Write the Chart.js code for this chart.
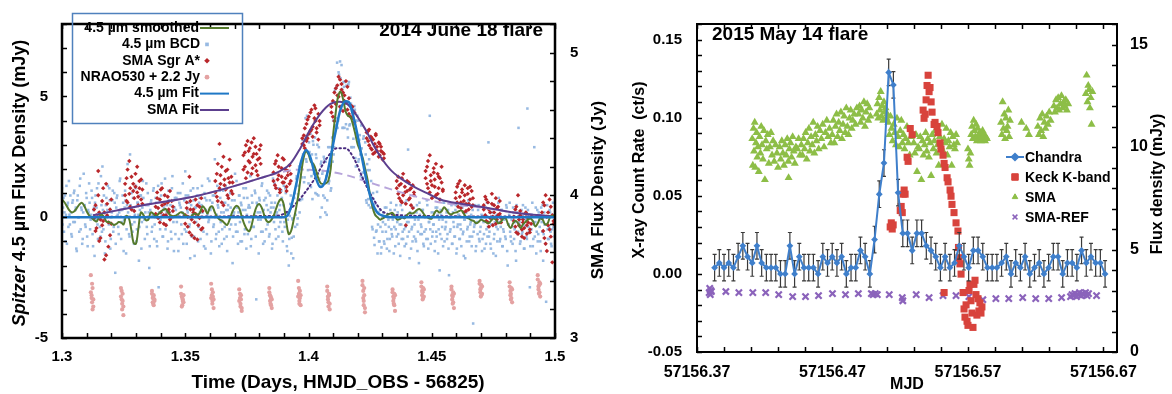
<!DOCTYPE html>
<html>
<head>
<meta charset="utf-8">
<script src="https://cdn.jsdelivr.net/npm/chart.js@4.4.1/dist/chart.umd.min.js"></script>
<style>
  html, body { margin: 0; padding: 0; background: #fff; }
  #wrap { position: relative; width: 1172px; height: 394px; overflow: hidden; }
  #flare2014 { position: absolute; left: 0; top: 0; }
  #flare2015 { position: absolute; left: 600px; top: 0; }
</style>
</head>
<body>
<div id="wrap">
  <canvas id="flare2014" width="620" height="394"></canvas>
  <canvas id="flare2015" width="572" height="394"></canvas>
</div>
<script>
// ---------------- 2014 June 18 flare ----------------
// Spitzer 4.5 um BCD photometry (mJy), two interleaved frame sets on a 0.0004 d cadence
const bcdStart = 1.3, bcdStep = 0.0004, bcdOffsetB = 0.0002;
const bcdFlux = [
  1.2,0.4,-0.6,0.9,0.1,-1.1,0.6,1.5,-0.3,0.2,
  -0.8,0.7,1.0,-0.2,0.4,-1.4,0.9,0.0,1.3,-0.5,
  0.3,-0.9,1.8,0.5,-0.4,0.8,-1.2,0.2,0.6,-0.1,
  1.1,-0.7,0.3,-1.6,0.9,0.4,-0.3,1.4,0.1,-0.8,
  0.5,2.1,-0.5,0.2,-1.0,0.8,0.3,-0.2,1.2,-1.3,
  0.0,0.7,-0.6,1.0,-2.3,0.4,0.9,-0.4,0.2,1.6,
  -0.9,0.3,0.6,-0.1,1.1,-1.5,0.5,0.2,-0.7,2.6,
  0.4,-0.3,0.8,-1.1,0.1,1.3,-0.5,0.6,-1.8,0.3,
  0.9,-0.2,1.5,0.0,-0.9,0.5,-0.4,1.0,0.2,-1.2,
  0.6,-0.6,0.1,1.2,-0.3,0.8,-1.0,0.4,-2.9,0.7,
  -0.1,1.4,-0.8,0.3,0.9,-0.5,0.2,-1.3,1.1,0.0,
  0.5,-0.9,1.7,-0.2,0.4,-0.7,0.8,0.1,-1.4,0.6,
  1.0,-0.3,0.2,-1.1,0.7,1.9,-0.6,0.3,0.9,-0.4,
  -1.7,0.5,0.1,1.2,-0.8,0.4,-0.2,0.9,-1.0,0.6,
  0.2,-0.5,1.3,0.0,-1.2,0.8,0.3,-0.7,1.6,-0.1,
  0.7,-1.5,0.4,0.9,-0.3,2.4,-0.9,0.1,0.5,-0.6,
  1.1,-0.2,-1.1,0.6,0.2,-0.4,1.3,-0.8,0.3,0.8,
  -0.5,0.4,1.0,-1.9,0.1,0.7,-0.3,1.5,-0.6,0.2,
  0.9,-1.0,0.5,0.0,1.2,-0.7,0.3,-1.3,0.8,0.4,
  -0.2,1.7,-0.9,0.6,-0.4,0.1,1.0,-3.4,0.5,-0.1,
  0.8,0.2,-0.6,1.4,-1.1,0.7,0.0,-0.5,1.1,0.3,
  -0.8,0.9,0.4,-1.3,1.6,-0.2,0.6,-0.9,0.2,1.2,
  -0.4,0.5,0.0,0.8,-1.0,
  1.3,-0.4,1.0,-1.2,-0.1,-2.0,0.05,0.9,-0.85,-0.1,
  -0.8,1.0,0.1,1.7,-0.05,1.3,0.2,2.2,1.65,3.2,
  2.95,1.65,4.1,2.3,3.35,1.4,2.7,3.45,1.7,0.75,
  3.0,1.8,1.0,2.45,3.0,0.9,1.6,0.0,2.3,1.8,
  0.9,2.4,0.2,1.7,0.7,2.9,1.5,2.6,1.2,3.3,
  4.0,2.9,5.3,4.1,6.4,4.0,5.9,6.45,4.5,5.3,
  3.7,5.4,5.6,3.85,4.45,3.3,5.6,3.85,4.7,2.9,
  4.25,2.9,4.45,2.1,3.4,4.0,2.4,3.4,1.7,2.85,
  1.85,3.35,1.9,2.6,0.6,1.95,0.5,1.95,0.4,0.8,
  -0.5,0.75,-1.15,0.3,-0.55,-1.5,0.2,-1.0,-0.4,-1.25,
  -0.6,0.2,-1.1,-0.3,0.4,-0.9,-0.1,-1.4,0.3,-0.5,
  -0.8,0.1,-0.4,-1.2,0.5,-0.2,-0.7,0.0,-1.6,-0.3,
  0.3,-0.9,-0.5,0.6,-1.1,-0.2,2.8,-0.6,0.2,-1.3,
  -0.4,0.4,-0.8,-0.1,-1.0,0.5,-0.6,-1.9,0.1,-0.3,
  -0.7,0.3,-1.2,0.0,-0.5,0.7,-0.9,-0.2,4.2,-1.1,
  0.2,-0.6,-0.3,-1.4,0.4,-0.8,0.1,-0.5,-2.2,0.3,
  -0.9,-0.1,0.6,-1.0,-0.4,0.2,-0.7,-1.3,0.0,-0.5,
  0.5,-1.1,-0.2,-0.8,0.3,-1.5,-0.4,0.1,-0.9,-0.3,
  -1.2,0.4,-0.6,-0.1,-1.7,0.2,-0.5,0.7,-1.0,-0.3,
  0.1,-0.8,-4.4,-0.4,0.5,-1.2,-0.2,0.3,-0.9,-0.6,
  -0.1,-1.4,0.4,-0.7,0.0,-1.1,0.6,-0.4,-0.8,0.2,
  -1.3,-0.3,0.5,-0.9,-0.2,-1.6,0.1,-0.5,0.8,-1.0,
  -0.4,0.3,-1.2,-0.6,0.0,-0.9,0.4,-2.0,-0.3,0.6,
  -0.8,-0.1,-1.1,0.2,-0.5,-1.4,0.5,-0.7,3.7,-0.2,
  -1.0,0.3,-0.6,-0.3,-1.3,0.4,-0.8,4.5,-0.4,0.1,
  -1.2,-0.5,0.6,-0.9,2.9,-0.2,-1.5,0.3,-0.7,-0.1,
  -1.0,0.4,-0.6,-1.8,0.2,-0.3,-3.5,0.5,-0.9,-0.4,
  0.2,-1.1,-0.5,0.6,-2.6,-0.3
];
const bcdFluxB = [
  -0.3,0.8,0.2,-1.0,1.3,0.5,-0.4,0.1,0.9,-0.7,
  0.6,-0.2,1.1,0.3,-1.3,0.7,0.0,-0.6,1.6,0.4,
  -1.1,0.2,0.5,-0.3,1.0,-0.8,0.3,1.4,-0.5,0.1,
  0.8,-1.2,0.4,0.6,-0.1,1.2,-0.9,0.2,-0.4,1.7,
  -0.6,0.3,0.9,-1.5,0.5,0.0,1.3,-0.3,0.7,-0.9,
  0.2,1.1,-0.4,0.6,-1.1,0.8,0.1,-0.7,1.5,0.3,
  -0.2,0.9,-1.4,0.4,0.7,-0.5,2.2,0.0,-0.8,0.5,
  1.0,-0.6,0.3,-0.2,1.2,-1.0,0.6,0.1,-0.4,0.9,
  -1.3,0.4,0.8,-0.1,0.2,1.4,-0.7,0.5,-2.1,0.3,
  0.7,-0.4,1.1,-0.9,0.0,0.6,-1.2,1.3,0.2,-0.5,
  0.9,0.1,-0.8,0.4,1.6,-0.3,0.5,-1.0,0.7,0.2,
  -0.6,1.2,0.0,-1.4,0.8,0.3,-0.2,1.0,-0.9,0.5,
  0.4,-0.7,1.4,0.1,-0.5,0.9,-1.1,0.2,0.6,-0.3,
  1.1,-0.8,0.3,0.7,-1.6,0.4,0.0,1.2,-0.4,0.8,
  -0.9,0.5,0.2,-0.6,1.0,-1.3,0.7,0.1,-0.2,1.5,
  0.3,-1.0,0.6,-0.4,0.9,0.0,-0.7,1.3,0.4,-1.2,
  0.8,0.2,-0.5,1.1,-0.9,0.6,0.3,-1.4,0.5,0.0,
  1.0,-0.3,0.7,-0.8,0.2,1.8,-0.6,0.4,-1.1,0.9,
  -0.2,0.6,-1.0,0.3,0.8,-0.5,1.2,0.1,-0.7,0.5,
  0.4,-1.2,0.9,0.0,-0.4,1.1,-0.8,0.6,0.2,-1.5,
  0.7,-0.1,1.3,-0.6,0.3,-1.0,0.8,0.5,-0.3,1.0,
  -0.7,0.2,0.6,-1.1,0.4,1.4,-0.5,0.1,0.9,-0.8,
  0.3,-0.2,1.1,-0.6,0.5,
  -0.2,1.2,0.2,-1.4,0.1,-0.9,0.55,-1.5,-0.05,-1.7,
  0.8,-0.4,1.6,-0.3,0.95,2.1,0.7,2.3,0.75,2.6,
  1.45,3.35,2.4,4.2,1.95,3.1,3.5,1.25,2.6,3.15,
  1.8,3.3,2.6,0.95,1.8,2.9,1.3,2.2,0.4,1.9,
  2.5,0.8,2.3,0.1,1.9,1.4,2.9,1.1,2.9,2.3,
  2.6,5.2,3.8,5.4,3.7,6.0,4.6,5.75,6.3,3.7,
  5.6,3.7,4.7,5.45,3.65,5.5,3.8,4.95,2.9,4.5,
  3.25,4.6,2.45,4.0,4.2,2.3,3.2,2.6,3.8,1.65,
  3.25,1.85,3.1,0.7,2.2,0.75,2.4,0.75,1.5,-0.4,
  1.0,-0.85,0.55,-0.6,1.05,-0.3,-1.0,0.3,-1.5,-0.05,
  -0.2,-1.0,0.4,-0.6,-1.3,0.1,-0.4,-0.9,0.6,-0.7,
  -0.1,-1.5,0.3,-0.5,-0.8,0.2,-1.1,-0.3,0.5,-0.9,
  -0.6,0.0,-1.2,-0.4,0.7,-0.8,-0.2,-1.7,0.1,-0.5,
  -1.0,0.4,-0.3,-0.9,0.2,-1.4,-0.1,0.6,-0.7,-0.4,
  0.3,-1.1,-0.6,0.0,-0.9,0.5,-1.3,-0.2,-0.5,0.8,
  -0.8,-0.3,0.2,-1.0,-0.6,0.4,-1.5,-0.1,-0.7,0.1,
  -0.4,-1.2,0.6,-0.5,-0.2,-0.9,0.3,-2.4,-0.6,0.0,
  -1.1,0.2,-0.4,-0.8,0.5,-1.3,-0.3,0.1,-0.9,-0.5,
  0.4,-0.7,-1.6,-0.1,0.2,-1.0,-0.4,0.6,-0.8,-0.2,
  -1.2,0.3,-0.6,-0.3,-1.4,0.0,-0.7,0.5,-1.0,-0.4,
  0.1,-0.9,-0.2,-1.3,0.4,-0.5,-0.8,3.1,-0.6,-1.1,
  -0.3,0.2,-1.5,-0.7,0.0,-0.4,-1.0,0.6,-0.2,-0.9,
  0.3,-1.2,-0.5,-0.1,-0.8,0.5,-1.4,-0.3,0.1,-0.6,
  -1.0,-0.4,0.4,-0.9,-0.2,-1.8,0.2,-0.6,-0.3,-1.1,
  0.0,-0.7,0.5,-1.3,-0.4,-0.1,-0.9,0.3,-0.6,-2.9,
  -0.5,0.1,-1.2,-0.3,-0.8,0.4,-0.6,-1.0,0.2,-0.4,
  -1.4,-0.2,0.5,-0.7,-0.3,-1.1,0.0,-0.5,-0.9,0.3,
  -0.6,-1.2,0.1,-0.4,-0.8
];
// 4.5 um smoothed light curve (mJy), one value per 0.001 d
const smoothStart = 1.3, smoothStep = 0.001;
const smoothFlux = [
  0.74,0.62,0.45,0.28,0.2,0.25,0.38,0.52,0.6,0.48,
  0.25,0.08,-0.02,-0.12,-0.18,0.0,0.1,0.02,-0.18,-0.2,
  -0.25,-0.32,-0.28,-0.2,-0.22,-0.3,0.05,0.0,-0.45,-1.05,
  -1.1,-0.45,0.2,0.1,-0.12,-0.1,0.2,0.15,0.05,0.12,
  0.22,0.3,0.34,0.2,0.08,0.04,0.06,0.12,0.2,0.18,
  0.08,0.02,0.0,0.1,0.15,0.1,0.2,0.45,0.35,0.15,
  0.4,0.45,0.2,0.0,-0.1,-0.15,-0.25,-0.32,-0.1,0.2,
  0.4,0.47,0.35,0.0,-0.3,-0.5,-0.58,-0.3,0.15,0.45,
  0.55,0.4,0.1,-0.15,-0.2,-0.1,0.1,0.4,0.65,0.75,
  0.5,-0.2,-0.7,-0.55,-0.1,0.4,1.0,1.8,2.45,2.73,
  2.6,2.3,2.2,1.95,1.6,1.4,1.38,1.4,1.5,2.0,
  3.4,4.3,5.0,5.2,4.9,4.4,4.2,4.15,3.85,3.45,
  3.0,2.75,2.45,2.0,1.53,0.9,0.4,0.1,0.0,-0.1,
  -0.05,0.0,0.1,0.15,0.18,0.05,-0.1,-0.08,0.0,-0.05,
  0.1,0.18,0.15,0.2,0.3,0.34,0.25,0.1,0.0,-0.05,
  -0.05,0.15,0.28,0.2,0.25,0.41,0.3,0.15,0.12,0.18,
  0.2,0.25,0.28,0.15,0.0,-0.05,-0.12,-0.15,-0.25,-0.2,
  -0.1,-0.15,-0.2,-0.25,-0.15,-0.05,-0.1,-0.25,-0.2,-0.05,
  -0.05,-0.3,-0.45,-0.25,-0.15,-0.25,-0.45,-0.3,-0.2,-0.1,
  -0.05,-0.15,-0.38,-0.25,-0.05,-0.1,-0.3,-0.25,0.0,0.05,0.08
];
// 4.5 um model fit (mJy)
const fitTime = [1.30,1.390,1.3913,1.393,1.395,1.397,1.399,1.4007,1.4028,1.4048,1.4068,1.4089,1.4109,
  1.4129,1.4150,1.4164,1.4177,1.4197,1.4217,1.4235,1.4254,1.4278,1.4305,1.433,1.50];
const fitFlux = [0,0,0.05,0.45,1.35,2.3,2.78,2.5,1.7,1.25,1.5,2.45,3.5,
  4.43,4.8,4.76,4.36,3.5,2.45,1.53,0.74,0.21,0.05,0,0];

// SMA Sgr A* (Jy): scan times, lower and upper sideband
const smaSgrTime = [
  1.3130,1.3136,1.3140,1.3147,1.3151,1.3156,1.3163,1.3167,1.3172,1.3179,1.3183,1.3188,1.3195,1.3200,
  1.3256,1.3262,1.3266,1.3273,1.3277,1.3282,1.3289,1.3293,1.3298,1.3305,1.3309,1.3314,1.3321,1.3326,
  1.3380,1.3386,1.3390,1.3397,1.3401,1.3406,1.3413,1.3417,1.3422,1.3429,1.3433,1.3438,1.3445,1.3450,
  1.3500,1.3506,1.3510,1.3517,1.3521,1.3526,1.3533,1.3537,1.3542,1.3549,1.3553,1.3558,1.3565,1.3570,
  1.3622,1.3628,1.3632,1.3639,1.3643,1.3648,1.3655,1.3659,1.3664,1.3671,1.3675,1.3680,1.3687,1.3692,
  1.3736,1.3742,1.3746,1.3753,1.3757,1.3762,1.3769,1.3773,1.3778,1.3785,1.3789,1.3794,1.3801,1.3806,
  1.3858,1.3864,1.3868,1.3875,1.3879,1.3884,1.3891,1.3895,1.3900,1.3907,1.3911,1.3916,1.3923,1.3928,
  1.3975,1.3981,1.3985,1.3992,1.3996,1.4001,1.4008,1.4012,1.4017,1.4024,1.4028,1.4033,1.4040,1.4045,
  1.4093,1.4099,1.4105,1.4111,1.4117,1.4122,1.4128,1.4134,1.4140,1.4146,1.4152,1.4158,1.4164,1.4171,1.4178,1.4186,
  1.4236,1.4242,1.4246,1.4253,1.4257,1.4262,1.4269,1.4273,1.4278,1.4285,1.4289,1.4294,1.4301,1.4306,
  1.4358,1.4364,1.4368,1.4375,1.4379,1.4384,1.4391,1.4395,1.4400,1.4407,1.4411,1.4416,1.4423,1.4428,
  1.4475,1.4481,1.4485,1.4492,1.4496,1.4501,1.4508,1.4512,1.4517,1.4524,1.4528,1.4533,1.4540,1.4545,
  1.4597,1.4603,1.4607,1.4614,1.4618,1.4623,1.4630,1.4634,1.4639,1.4646,1.4650,1.4655,1.4662,1.4667,
  1.4711,1.4717,1.4721,1.4728,1.4732,1.4737,1.4744,1.4748,1.4753,1.4760,1.4764,1.4769,1.4776,1.4781,
  1.4833,1.4839,1.4843,1.4850,1.4854,1.4859,1.4866,1.4870,1.4875,1.4882,1.4886,1.4891,1.4898,1.4903,
  1.4947,1.4952,1.4957,1.4962,1.4967,1.4972,1.4978,1.4983,1.4989,1.4994
];
const smaSgrLsb = [
  3.84,3.93,3.77,4.17,3.88,3.70,3.96,3.82,3.55,4.08,3.86,3.64,3.90,3.80,
  4.00,4.12,3.95,4.24,4.05,3.90,4.08,3.98,4.15,4.02,3.93,4.10,3.97,4.04,
  3.92,4.02,3.84,3.97,3.88,4.05,3.80,3.94,3.86,3.99,3.90,3.83,3.96,3.89,
  3.86,3.95,3.78,4.13,3.90,3.72,3.88,3.81,3.97,3.69,3.85,3.92,3.76,3.89,
  4.02,4.15,3.96,4.36,4.08,4.20,3.93,4.11,4.04,4.18,3.98,4.09,4.13,4.01,
  4.18,4.30,4.12,4.38,4.24,4.33,4.15,4.27,4.40,4.21,4.29,4.14,4.26,4.35,
  4.10,4.22,4.05,4.28,4.14,4.02,4.19,4.09,4.25,4.12,4.06,4.17,4.08,4.15,
  4.36,4.42,4.33,4.50,4.40,4.55,4.45,4.60,4.48,4.63,4.52,4.44,4.57,4.49,
  4.58,4.66,4.52,4.75,4.70,4.83,4.62,4.78,4.72,4.66,4.80,4.60,4.68,4.55,4.62,4.51,
  4.44,4.38,4.46,4.33,4.40,4.29,4.36,4.42,4.31,4.37,4.28,4.34,4.30,4.26,
  4.05,4.13,3.98,4.08,3.95,4.15,4.02,3.79,4.10,3.97,4.04,3.93,4.07,4.00,
  4.12,4.20,4.05,4.28,4.10,3.98,4.16,4.06,4.22,4.01,4.13,3.97,4.09,4.03,
  3.98,4.06,3.92,4.10,3.95,4.02,3.88,4.00,3.94,4.05,3.90,3.97,4.03,3.93,
  3.90,3.99,3.82,3.95,3.78,3.88,4.01,3.85,3.93,3.80,3.91,3.86,3.96,3.84,
  3.82,3.90,3.74,4.00,3.79,3.86,3.71,3.83,3.77,3.88,3.73,3.81,3.76,3.85,
  3.84,3.95,3.70,4.00,3.61,3.88,3.76,3.92,3.53,3.80
];
const smaSgrUsb = [
  3.90,3.75,3.86,4.00,3.68,3.83,3.79,4.05,3.88,3.58,3.94,3.81,3.72,3.97,
  4.08,3.96,4.18,4.01,3.92,4.13,4.03,3.89,4.06,4.20,3.99,4.05,4.11,3.94,
  3.87,3.98,3.91,3.81,4.04,3.93,3.86,4.00,3.79,3.95,3.88,4.03,3.85,3.92,
  3.80,3.91,3.85,3.74,3.96,3.83,3.90,3.70,3.87,3.93,3.79,3.84,3.98,3.77,
  4.10,3.99,4.22,4.05,4.14,3.95,4.27,4.07,4.17,4.00,4.12,4.25,4.03,4.09,
  4.28,4.20,4.35,4.16,4.31,4.23,4.37,4.19,4.29,4.34,4.17,4.25,4.32,4.22,
  4.16,4.07,4.24,4.11,4.20,4.04,4.13,4.26,4.09,4.18,4.03,4.14,4.21,4.10,
  4.40,4.35,4.47,4.38,4.53,4.43,4.58,4.46,4.41,4.54,4.61,4.47,4.39,4.52,
  4.62,4.55,4.72,4.64,4.77,4.69,4.81,4.74,4.59,4.70,4.65,4.76,4.57,4.63,4.54,4.58,
  4.40,4.45,4.35,4.41,4.32,4.39,4.30,4.43,4.34,4.27,4.36,4.31,4.25,4.29,
  4.10,4.01,4.07,3.96,4.12,4.00,4.06,3.94,4.03,4.09,3.98,4.05,3.91,4.02,
  4.17,4.08,4.24,4.02,4.14,4.07,4.19,4.11,4.00,4.15,4.05,4.12,4.20,4.04,
  4.02,3.95,4.08,3.99,3.91,4.04,3.96,4.07,3.89,4.01,3.94,4.06,3.92,3.98,
  3.93,3.86,3.97,3.81,3.90,3.84,3.94,3.79,3.88,3.98,3.83,3.92,3.87,3.81,
  3.85,3.78,3.92,3.73,3.83,3.89,3.76,3.81,3.70,3.87,3.79,3.84,3.74,3.80,
  3.88,3.75,3.93,3.66,3.85,3.79,3.97,3.71,3.86,3.82
];
// NRAO530 calibrator scans (+2.2 Jy)
const nraoTime = [
  1.3117,1.3120,1.3122,1.3124,1.3127, 1.3239,1.3242,1.3244,1.3246,1.3249,
  1.3365,1.3368,1.3370,1.3372,1.3375, 1.3483,1.3486,1.3488,1.3490,1.3493,
  1.3605,1.3608,1.3610,1.3612,1.3615, 1.3719,1.3722,1.3724,1.3726,1.3729,
  1.3841,1.3844,1.3846,1.3848,1.3851, 1.3958,1.3961,1.3963,1.3965,1.3968,
  1.4076,1.4079,1.4081,1.4083,1.4086, 1.4219,1.4222,1.4224,1.4226,1.4229,
  1.4341,1.4344,1.4346,1.4348,1.4351, 1.4458,1.4461,1.4463,1.4465,1.4468,
  1.4580,1.4583,1.4585,1.4587,1.4590, 1.4694,1.4697,1.4699,1.4701,1.4704,
  1.4816,1.4819,1.4821,1.4823,1.4826, 1.4930,1.4933,1.4935,1.4937,1.4940
];
const nraoLsb = [
  3.44,3.30,3.25,3.35,3.22, 3.35,3.27,3.20,3.31,3.16,
  3.33,3.28,3.24,3.30,3.26, 3.36,3.29,3.23,3.27,3.25,
  3.38,3.30,3.26,3.32,3.21, 3.34,3.28,3.22,3.30,3.19,
  3.35,3.30,3.24,3.28,3.21, 3.40,3.31,3.26,3.33,3.23,
  3.36,3.29,3.22,3.31,3.24, 3.40,3.33,3.26,3.30,3.18,
  3.34,3.29,3.24,3.31,3.19, 3.39,3.33,3.27,3.35,3.29,
  3.36,3.30,3.24,3.32,3.21, 3.40,3.34,3.29,3.37,3.31,
  3.39,3.33,3.27,3.35,3.25, 3.44,3.36,3.31,3.39,3.29
];
const nraoUsb = [
  3.32,3.28,3.38,3.20,3.27, 3.29,3.33,3.24,3.26,3.22,
  3.31,3.25,3.29,3.23,3.27, 3.31,3.22,3.28,3.26,3.30,
  3.28,3.34,3.24,3.29,3.27, 3.26,3.31,3.24,3.27,3.21,
  3.32,3.26,3.29,3.23,3.27, 3.29,3.35,3.24,3.28,3.30,
  3.33,3.27,3.25,3.30,3.20, 3.37,3.28,3.23,3.35,3.21,
  3.32,3.26,3.28,3.23,3.30, 3.36,3.30,3.32,3.28,3.34,
  3.34,3.27,3.29,3.25,3.31, 3.38,3.32,3.35,3.30,3.36,
  3.36,3.30,3.31,3.28,3.34, 3.41,3.34,3.37,3.32,3.38
];
// SMA fit (Jy): total, broad and narrow components
const smaFitTime = [1.3126,1.3329,1.3532,1.3670,1.3804,1.3885,1.3926,1.3967,1.4007,1.4048,1.4089,1.4126,1.4156,
  1.4183,1.4210,1.4238,1.4264,1.4292,1.4332,1.4373,1.4427,1.4481,1.4535,1.4617,1.4698,1.4832,1.5];
const smaFitFlux = [3.86,3.93,3.99,4.05,4.12,4.17,4.22,4.33,4.46,4.57,4.64,4.655,4.64,
  4.59,4.52,4.44,4.35,4.27,4.18,4.12,4.06,4.015,3.97,3.94,3.92,3.88,3.85];
const broadTime = [1.3126,1.3329,1.3532,1.3670,1.3804,1.3885,1.3967,1.4048,1.4089,1.4156,1.4238,1.4319,1.4427,1.4535,1.4617,1.4698,1.4832,1.5];
const broadFlux = [3.86,3.93,3.99,4.05,4.12,4.16,4.18,4.175,4.165,4.14,4.095,4.05,3.995,3.95,3.93,3.915,3.88,3.85];
const narrowTime = [1.3126,1.385,1.390,1.3953,1.4021,1.4075,1.4116,1.4149,1.4183,1.4224,1.4264,1.4305,1.438,1.445,1.5];
const narrowFlux = [3.85,3.855,3.87,3.95,4.105,4.262,4.33,4.33,4.262,4.105,3.971,3.881,3.86,3.855,3.85];

const leftXTicks = [1.3, 1.35, 1.4, 1.45, 1.5];
const spitzerTicks = [-5, 0, 5];
const smaJyTicks = [3, 4, 5];

// ---------------- 2015 May 14 flare (times are MJD - 57156) ----------------
const chandraStart = 0.383, chandraBin = 300 / 86400;
const chandraRate = [
  0.004,0.007,0.004,0.007,0.004,0.011,0.018,0.011,0.007,0.018,
  0.007,0.004,0.004,0.004,0.0,0.0,0.018,0.0,0.011,0.004,
  0.004,0.004,0.0,0.011,0.007,0.011,0.007,0.011,0.0,0.004,
  0.004,0.015,0.011,0.0,0.022,0.051,0.071,0.129,0.121,0.052,
  0.026,0.026,
  0.015,0.026,0.026,0.018,0.015,0.011,0.004,0.011,0.004,0.007,
  0.018,0.011,0.004,0.015,0.015,0.011,0.004,0.004,0.004,0.007,
  0.011,0.0,0.007,0.004,0.011,0.0,0.004,0.007,0.0,0.004,
  0.011,0.011,0.0,0.007,0.007,0.004,0.015,0.007,0.011,0.007,
  0.007,0.0
];
const chandraErr = 0.0085;
const keckTime = [0.5126,0.5134,0.5141,0.5148,0.5200,0.5207,0.5215,0.5222,0.5229,0.5236,0.5251,0.5258,0.5274,0.5288,
  0.5369,0.5376,0.5384,0.5391,0.5398,0.5406,0.5413,0.5420,0.5428,0.5435,0.5450,0.5457,0.5472,0.5479,0.5494,0.5501,
  0.5516,0.5524,0.5524,0.5531,0.5546,0.5553,0.5568,0.5575,0.5582,0.5597,0.5612,0.5626,0.5630,0.5634,0.5641,0.5649,
  0.5664,0.5671,0.5678,0.5686,0.5693,0.5700,0.5708,0.5715,0.5722,0.5730,0.5737,0.5744,0.5752,0.5759,0.5766,
  0.5774,0.5781,0.5788,0.5796,0.5803];
const keckFlux = [6.1,6.3,6.0,6.2,6.9,7.1,6.8,7.7,7.9,7.7,9.5,9.3,10.9,10.6,
  11.8,11.4,11.6,12.3,13.0,13.5,12.7,12.9,12.2,11.7,11.1,11.2,11.0,10.7,10.2,9.9,
  9.6,9.2,2.9,9.0,8.5,8.3,7.9,7.6,7.2,6.8,6.3,5.9,5.1,4.6,4.3,3.8,
  2.9,2.1,1.7,2.3,1.5,1.3,3.0,3.3,2.5,1.9,1.2,3.3,3.5,2.8,1.8,
  2.6,2.0,2.4,1.9,2.2];
const smaTime = [
  0.4108,0.4112,0.4117,0.4121,0.4126,0.4130,0.4135,0.4140,0.4145,0.4150,0.4156,0.4162,0.4168,0.4174,0.4180,
  0.4187,0.4194,0.4201,0.4208,0.4215,0.4222,0.4230,0.4238,0.4246,0.4254,0.4262,0.4270,0.4280,0.4290,0.4298,
  0.4310,0.4318,0.4326,0.4334,0.4342,0.4350,0.4358,0.4366,0.4374,0.4376,0.4382,0.4390,0.4398,0.4406,0.4414,
  0.4422,0.4430,0.4440,0.4450,0.4460,0.4470,
  0.4478,0.4486,0.4494,0.4502,0.4510,0.4518,0.4526,0.4534,0.4542,0.4550,0.4558,0.4566,0.4574,0.4582,0.4590,
  0.4598,0.4608,0.4618,0.4628,0.4638,0.4648,0.4658,0.4668,0.4678,0.4688,
  0.4698,0.4706,0.4714,0.4722,0.4730,0.4738,0.4746,0.4754,0.4762,0.4770,0.4778,0.4786,0.4794,0.4802,0.4810,
  0.4818,0.4826,0.4834,0.4842,0.4850,0.4860,0.4870,0.4880,
  0.4892,0.4900,0.4908,0.4916,0.4924,0.4932,0.4940,0.4948,0.4956,0.4964,0.4972,0.4980,
  0.5026,0.5032,0.5038,0.5044,0.5050,0.5056,0.5062,0.5068,0.5074,0.5080,0.5086,0.5092,0.5098,0.5104,
  0.5112,0.5120,0.5128,0.5136,0.5144,0.5152,0.5160,0.5168,0.5176,0.5184,0.5192,0.5200,0.5208,0.5216,0.5224,
  0.5232,0.5240,0.5250,0.5260,0.5270,0.5280,
  0.5300,0.5308,0.5316,0.5324,0.5332,0.5340,0.5348,0.5356,0.5364,0.5372,0.5380,0.5388,0.5396,0.5404,0.5412,
  0.5420,0.5428,0.5436,0.5444,0.5452,0.5460,0.5468,0.5476,0.5484,0.5492,0.5500,0.5508,0.5516,0.5524,0.5532,
  0.5540,0.5548,0.5556,0.5564,0.5572,0.5580,0.5588,0.5596,0.5604,0.5612,0.5620,
  0.5700,0.5706,0.5712,0.5718,
  0.5724,0.5730,0.5736,0.5742,0.5748,0.5754,0.5760,0.5766,0.5772,0.5778,0.5784,0.5790,0.5796,0.5802,0.5808,
  0.5814,0.5820,0.5826,0.5832,0.5840,
  0.5944,0.5950,0.5956,0.5962,0.5968,0.5974,0.5980,0.5986,0.5992,0.5998,0.6004,0.6010,
  0.6095,0.6130,0.6150,
  0.6216,0.6224,0.6232,0.6240,0.6248,0.6256,0.6264,0.6272,0.6280,0.6290,0.6300,0.6310,
  0.6334,0.6342,0.6350,0.6358,0.6366,0.6374,0.6382,0.6390,0.6398,0.6406,0.6414,0.6422,0.6430,0.6440,
  0.6570,0.6576,0.6582,0.6588,0.6594,0.6600,0.6606,0.6612,0.6618
];
const smaFlux = [
  10.4,9.1,10.9,9.8,11.2,9.0,10.2,10.7,9.5,10.0,8.8,10.5,9.7,11.0,10.1,
  9.4,10.8,8.4,10.3,9.9,10.6,9.2,10.0,10.7,9.6,10.3,9.3,10.1,9.7,9.0,
  10.0,9.4,10.3,9.7,9.1,10.1,9.6,10.4,9.3,8.5,9.9,10.2,9.5,10.5,9.8,
  9.2,10.0,9.9,10.4,9.6,10.1,
  9.6,10.4,9.9,10.7,9.4,10.2,10.9,9.8,10.5,10.1,11.2,9.7,10.6,10.3,11.0,
  9.9,10.8,10.4,11.1,10.0,10.7,11.3,10.5,10.9,10.2,
  10.6,11.3,10.2,11.0,11.6,10.5,11.2,10.8,11.7,10.4,11.1,11.5,10.7,11.9,11.0,
  10.6,11.4,11.8,10.9,11.3,11.6,11.1,11.9,
  11.6,12.0,11.2,11.8,11.4,12.2,11.0,11.7,12.1,11.3,11.9,11.5,
  11.6,12.1,11.4,12.4,11.8,12.7,11.5,12.0,11.3,12.2,11.7,11.9,11.4,11.6,
  11.2,10.6,11.5,10.9,10.3,11.1,10.7,10.1,11.4,10.5,10.0,10.8,11.3,10.2,10.6,
  9.9,10.4,11.0,10.2,9.6,10.5,
  10.2,9.7,10.6,8.8,10.0,9.9,10.5,8.4,10.3,9.6,10.1,10.7,9.8,10.4,9.5,
  10.2,8.6,10.6,9.9,10.3,10.8,9.7,10.1,9.1,10.5,10.0,11.1,9.8,10.4,10.2,
  10.9,9.6,10.3,10.0,10.7,9.1,10.5,10.1,9.9,10.6,10.2,
  9.9,9.4,9.1,9.7,
  10.6,11.0,10.4,11.3,10.8,10.5,11.1,10.3,10.9,10.6,10.4,10.7,10.3,10.5,10.8,
  10.4,10.6,10.3,10.5,10.4,
  11.2,10.6,12.2,10.9,11.6,10.4,11.4,10.8,11.0,11.8,10.5,11.3,
  11.2,10.9,10.6,
  11.0,10.6,11.4,10.8,11.6,10.5,11.2,10.9,11.5,11.1,11.7,11.3,
  12.0,11.7,12.3,11.9,12.4,11.8,12.1,12.5,11.9,12.2,12.0,12.3,11.8,12.1,
  12.6,13.5,12.2,13.0,12.8,11.9,12.4,11.1,12.7
];
const smaRefTime = [0.3790,0.3794,0.3798,0.3802,0.3806,0.3913,0.4009,0.4112,0.4207,0.4303,0.4406,0.4501,
  0.4597,0.4700,0.4796,0.4891,0.4987,0.5001,0.5016,0.5031,0.5119,0.5215,0.5219,0.5318,0.5413,0.5516,0.5612,
  0.5707,0.5810,0.5906,0.6001,0.6104,0.6200,0.6296,0.6391,0.6457,0.6468,0.6479,0.6490,0.6501,0.6512,0.6523,
  0.6534,0.6545,0.6556,0.6568,0.6579,0.6590,0.6649];
const smaRefFlux = [2.9,3.1,2.8,3.0,2.95,2.95,2.9,2.9,2.9,2.8,2.7,2.7,
  2.75,2.85,2.8,2.85,2.85,2.8,2.85,2.8,2.8,2.65,2.5,2.8,2.65,2.75,2.75,
  2.7,2.55,2.6,2.6,2.65,2.6,2.6,2.65,2.7,2.8,2.75,2.85,2.7,2.8,2.9,
  2.75,2.85,2.8,2.9,2.75,2.85,2.75];

const mjdTicks = [0.37, 0.47, 0.57, 0.67];
const rateTicks = [-0.05, 0, 0.05, 0.1, 0.15];
const mjyTicks = [0, 5, 10, 15];

// ---------------- helpers ----------------
const FONT = '"Liberation Sans", Arial, Helvetica, sans-serif';
Chart.defaults.font.family = FONT;
Chart.defaults.color = '#000';

const pts = (xs, ys) => xs.map((x, i) => ({ x, y: ys[i] }));
const grid = (start, step, ys) => ys.map((y, i) => ({ x: start + i * step, y }));

const GREEN = '#557a2c', BCD = 'rgba(146,182,224,0.95)', FITBLUE = '#1f78c6', SGR = '#b9262a',
      NRAO = '#e4a2a2', SMAFIT = '#5c3f8e', BROAD = '#b7a5db', NARROW = '#4a2c80';
const CHANDRA = '#3f7fcb', KECK = '#d8433c', SMAG = '#8dbe47', SMAREF = '#8b63bb';

function fixedTicks(values) {
  return scale => { scale.ticks = values.map(v => ({ value: v })); };
}
function fixedSize(prop, px) {
  return scale => { scale[prop] = px; };
}
const tickFont = size => ({ family: FONT, size, weight: 'bold' });

// frame + inward minor ticks
const axisDecor = {
  id: 'axisDecor',
  afterDraw(chart, args, opts) {
    const { ctx, chartArea: a } = chart;
    ctx.save();
    ctx.strokeStyle = '#000';
    ctx.lineWidth = 1.5;
    opts.minor.forEach(m => {
      const s = chart.scales[m.scale];
      const n0 = Math.ceil((s.min - m.base) / m.step - 1e-6);
      const n1 = Math.floor((s.max - m.base) / m.step + 1e-6);
      for (let k = n0; k <= n1; k++) {
        const p = Math.round(s.getPixelForValue(m.base + k * m.step)) + 0.5;
        ctx.beginPath();
        m.sides.forEach(side => {
          if (side === 'bottom') { ctx.moveTo(p, a.bottom); ctx.lineTo(p, a.bottom - m.len); }
          if (side === 'top') { ctx.moveTo(p, a.top); ctx.lineTo(p, a.top + m.len); }
          if (side === 'left') { ctx.moveTo(a.left, p); ctx.lineTo(a.left + m.len, p); }
          if (side === 'right') { ctx.moveTo(a.right, p); ctx.lineTo(a.right - m.len, p); }
        });
        ctx.stroke();
      }
    });
    ctx.lineWidth = opts.frame;
    ctx.strokeRect(a.left, a.top, a.width, a.height);
    ctx.restore();
  }
};

function vText(ctx, x, y, parts) {
  ctx.save();
  ctx.translate(x, y);
  ctx.rotate(-Math.PI / 2);
  ctx.textBaseline = 'middle';
  ctx.textAlign = 'left';
  let total = 0;
  parts.forEach(p => { ctx.font = p.font; total += ctx.measureText(p.text).width; });
  let cx = -total / 2;
  parts.forEach(p => { ctx.font = p.font; ctx.fillText(p.text, cx, 0); cx += ctx.measureText(p.text).width; });
  ctx.restore();
}

// ---------------- left chart ----------------
const leftText = {
  id: 'leftText',
  afterDraw(chart) {
    const ctx = chart.ctx;
    ctx.save();
    ctx.fillStyle = '#000';
    ctx.font = 'bold 19px ' + FONT;
    ctx.textAlign = 'right';
    ctx.textBaseline = 'alphabetic';
    ctx.fillText('2014 June 18 flare', 543, 36);
    ctx.textAlign = 'center';
    ctx.fillText('Time (Days, HMJD_OBS - 56825)', 338, 388);
    vText(ctx, 20, 183, [
      { text: 'Spitzer', font: 'italic bold 18px ' + FONT },
      { text: ' 4.5 µm Flux Density (mJy)', font: 'bold 18px ' + FONT }
    ]);
    vText(ctx, 598, 190, [{ text: 'SMA Flux Density (Jy)', font: 'bold 17px ' + FONT }]);

    // legend box
    ctx.strokeStyle = '#4f81bd';
    ctx.lineWidth = 1.5;
    ctx.strokeRect(72.5, 13.5, 170, 110);
    ctx.restore();

    const rows = [
      { label: '4.5 µm smoothed', kind: 'line', color: GREEN },
      { label: '4.5 µm BCD', kind: 'dot', color: BCD, style: 'rect', r: 2.6 },
      { label: 'SMA Sgr A*', kind: 'dot', color: SGR, style: 'rectRot', r: 2.8 },
      { label: 'NRAO530 + 2.2 Jy', kind: 'dot', color: NRAO, style: 'circle', r: 2.4 },
      { label: '4.5 µm Fit', kind: 'line', color: FITBLUE },
      { label: 'SMA Fit', kind: 'line', color: SMAFIT }
    ];
    rows.forEach((r, i) => {
      const y = 28 + i * 16.4;
      ctx.save();
      ctx.font = 'bold 14px ' + FONT;
      ctx.textAlign = 'right';
      ctx.textBaseline = 'middle';
      ctx.fillStyle = '#000';
      ctx.fillText(r.label, r.kind === 'line' ? 199 : 200, y);
      ctx.fillStyle = r.color;
      ctx.strokeStyle = r.color;
      if (r.kind === 'line') {
        ctx.lineWidth = 2;
        ctx.beginPath(); ctx.moveTo(200, y); ctx.lineTo(229, y); ctx.stroke();
      } else {
        Chart.helpers.drawPoint(ctx, { pointStyle: r.style, radius: r.r, borderWidth: 0, rotation: 0 }, 207, y);
      }
      ctx.restore();
    });
  }
};

new Chart(document.getElementById('flare2014'), {
  type: 'scatter',
  data: {
    datasets: [
      { label: '4.5 µm Fit', data: pts(fitTime, fitFlux), yAxisID: 'y', showLine: true, pointRadius: 0,
        borderColor: FITBLUE, borderWidth: 2.5, cubicInterpolationMode: 'monotone', order: 1 },
      { label: '4.5 µm smoothed', data: grid(smoothStart, smoothStep, smoothFlux), yAxisID: 'y', showLine: true,
        pointRadius: 0, borderColor: GREEN, borderWidth: 2, tension: 0.35, order: 2 },
      { label: 'SMA Fit', data: pts(smaFitTime, smaFitFlux), yAxisID: 'y2', showLine: true, pointRadius: 0,
        borderColor: SMAFIT, borderWidth: 2, cubicInterpolationMode: 'monotone', order: 3 },
      { label: 'narrow', data: pts(narrowTime, narrowFlux), yAxisID: 'y2', showLine: true, pointRadius: 0,
        borderColor: NARROW, borderWidth: 2, borderDash: [1.5, 3], borderCapStyle: 'round',
        cubicInterpolationMode: 'monotone', order: 4 },
      { label: 'broad', data: pts(broadTime, broadFlux), yAxisID: 'y2', showLine: true, pointRadius: 0,
        borderColor: BROAD, borderWidth: 2, borderDash: [8, 5], cubicInterpolationMode: 'monotone', order: 5 },
      { label: 'SMA Sgr A*', data: pts(smaSgrTime, smaSgrLsb).concat(pts(smaSgrTime, smaSgrUsb)), yAxisID: 'y2',
        pointStyle: 'rectRot', pointRadius: 2.2, pointBackgroundColor: SGR, pointBorderWidth: 0, order: 6 },
      { label: 'NRAO530 + 2.2 Jy', data: pts(nraoTime, nraoLsb).concat(pts(nraoTime, nraoUsb)), yAxisID: 'y2',
        pointStyle: 'circle', pointRadius: 2.1, pointBackgroundColor: NRAO, pointBorderWidth: 0, order: 7 },
      { label: '4.5 µm BCD', data: grid(bcdStart, bcdStep, bcdFlux).concat(grid(bcdStart + bcdOffsetB, bcdStep, bcdFluxB)),
        yAxisID: 'y', pointStyle: 'rect', pointRadius: 1.8, pointBackgroundColor: BCD, pointBorderWidth: 0, order: 8 }
    ]
  },
  options: {
    responsive: false,
    animation: false,
    events: [],
    layout: { padding: { top: 10, left: 0, right: 0, bottom: 0 } },
    plugins: {
      legend: { display: false },
      tooltip: { enabled: false },
      axisDecor: {
        frame: 2.5,
        minor: [
          { scale: 'x', base: 1.3, step: 0.01, len: 5, sides: ['bottom', 'top'] },
          { scale: 'y', base: 0, step: 1, len: 5, sides: ['left'] },
          { scale: 'y2', base: 3, step: 0.2, len: 5, sides: ['right'] }
        ]
      }
    },
    scales: {
      x: {
        type: 'linear', min: 1.3, max: 1.5,
        grid: { display: false, drawTicks: false }, border: { display: false },
        ticks: { font: tickFont(15), padding: 10, maxRotation: 0, autoSkip: false,
                 callback: v => String(Number(v.toFixed(2))) },
        afterBuildTicks: fixedTicks(leftXTicks),
        afterFit: fixedSize('height', 56)
      },
      y: {
        type: 'linear', position: 'left', min: -5, max: 8,
        grid: { display: false, drawTicks: false }, border: { display: false },
        ticks: { font: tickFont(15), padding: 14 },
        afterBuildTicks: fixedTicks(spitzerTicks),
        afterFit: fixedSize('width', 62)
      },
      y2: {
        type: 'linear', position: 'right', min: 3, max: 5.2,
        grid: { display: false, drawTicks: false }, border: { display: false },
        ticks: { font: tickFont(15), padding: 15 },
        afterBuildTicks: fixedTicks(smaJyTicks),
        afterFit: fixedSize('width', 65)
      }
    }
  },
  plugins: [axisDecor, leftText]
});

// ---------------- right chart ----------------
const errorBars = {
  id: 'errorBars',
  beforeDatasetDraw(chart, args) {
    if (args.meta.label !== 'Chandra') return;
    const { ctx } = chart;
    const x = chart.scales.x, y = chart.scales.y;
    ctx.save();
    ctx.strokeStyle = '#3a3a3a';
    ctx.lineWidth = 1.2;
    chandraRate.forEach((r, i) => {
      const px = x.getPixelForValue(chandraStart + i * chandraBin);
      const top = y.getPixelForValue(r + chandraErr), bot = y.getPixelForValue(r - chandraErr);
      ctx.beginPath();
      ctx.moveTo(px, top); ctx.lineTo(px, bot);
      ctx.moveTo(px - 2, top); ctx.lineTo(px + 2, top);
      ctx.moveTo(px - 2, bot); ctx.lineTo(px + 2, bot);
      ctx.stroke();
    });
    ctx.restore();
  }
};

const rightText = {
  id: 'rightText',
  afterDraw(chart) {
    const ctx = chart.ctx;
    ctx.save();
    ctx.fillStyle = '#000';
    ctx.font = 'bold 19px ' + FONT;
    ctx.textAlign = 'left';
    ctx.textBaseline = 'alphabetic';
    ctx.fillText('2015 May 14 flare', 112, 40);
    ctx.font = 'bold 16px ' + FONT;
    ctx.textAlign = 'center';
    ctx.fillText('MJD', 307, 389);
    vText(ctx, 40, 170, [{ text: 'X-ray Count Rate  (ct/s)', font: 'bold 16px ' + FONT }]);
    vText(ctx, 558, 184, [{ text: 'Flux density (mJy)', font: 'bold 16px ' + FONT }]);
    ctx.restore();

    // legend
    const rows = [
      { label: 'Chandra', style: 'rectRot', color: CHANDRA, r: 3.2, line: true },
      { label: 'Keck K-band', style: 'rect', color: KECK, r: 4.6 },
      { label: 'SMA', style: 'triangle', color: SMAG, r: 3.2 },
      { label: 'SMA-REF', style: 'crossRot', color: SMAREF, r: 3.4 }
    ];
    rows.forEach((r, i) => {
      const y = 157 + i * 20;
      ctx.save();
      ctx.fillStyle = r.color; ctx.strokeStyle = r.color;
      if (r.line) {
        ctx.lineWidth = 2;
        ctx.beginPath(); ctx.moveTo(406, y); ctx.lineTo(424, y); ctx.stroke();
      }
      ctx.lineWidth = r.style === 'crossRot' ? 1.5 : 0;
      Chart.helpers.drawPoint(ctx, { pointStyle: r.style, radius: r.r, borderWidth: ctx.lineWidth, rotation: 0 }, 415, y);
      ctx.fillStyle = '#000';
      ctx.font = 'bold 14px ' + FONT;
      ctx.textAlign = 'left';
      ctx.textBaseline = 'middle';
      ctx.fillText(r.label, 425, y + 1);
      ctx.restore();
    });
  }
};

new Chart(document.getElementById('flare2015'), {
  type: 'scatter',
  data: {
    datasets: [
      { label: 'Chandra', data: grid(chandraStart, chandraBin, chandraRate), yAxisID: 'y', showLine: true,
        borderColor: CHANDRA, borderWidth: 2, pointStyle: 'rectRot', pointRadius: 3.4,
        pointBackgroundColor: CHANDRA, pointBorderColor: CHANDRA, pointBorderWidth: 0, order: 1 },
      { label: 'Keck K-band', data: pts(keckTime, keckFlux), yAxisID: 'y2', pointStyle: 'rect', pointRadius: 5,
        pointBackgroundColor: KECK, pointBorderWidth: 0, order: 2 },
      { label: 'SMA-REF', data: pts(smaRefTime, smaRefFlux), yAxisID: 'y2', pointStyle: 'crossRot', pointRadius: 4.4,
        pointBorderColor: SMAREF, pointBorderWidth: 2.2, order: 3 },
      { label: 'SMA', data: pts(smaTime, smaFlux), yAxisID: 'y2', pointStyle: 'triangle', pointRadius: 4.6,
        pointBackgroundColor: SMAG, pointBorderWidth: 0, order: 4 }
    ]
  },
  options: {
    responsive: false,
    animation: false,
    events: [],
    layout: { padding: { top: 9, left: 0, right: 0, bottom: 0 } },
    plugins: {
      legend: { display: false },
      tooltip: { enabled: false },
      axisDecor: {
        frame: 2,
        minor: [
          { scale: 'x', base: 0.37, step: 0.02, len: 5, sides: ['bottom', 'top'] },
          { scale: 'y', base: 0, step: 0.01, len: 5, sides: ['left'] },
          { scale: 'y2', base: 0, step: 1, len: 5, sides: ['right'] }
        ]
      }
    },
    scales: {
      x: {
        type: 'linear', min: 0.37, max: 0.68,
        grid: { display: false, drawTicks: false }, border: { display: false },
        ticks: { font: tickFont(16), padding: 11, maxRotation: 0, autoSkip: false,
                 callback: v => '57156' + v.toFixed(2).slice(1) },
        afterBuildTicks: fixedTicks(mjdTicks),
        afterFit: fixedSize('height', 42)
      },
      y: {
        type: 'linear', position: 'left', min: -0.05, max: 0.16,
        grid: { display: false, drawTicks: false }, border: { display: false },
        ticks: { font: tickFont(15), padding: 15, callback: v => v.toFixed(2) },
        afterBuildTicks: fixedTicks(rateTicks),
        afterFit: fixedSize('width', 97)
      },
      y2: {
        type: 'linear', position: 'right', min: 0, max: 16,
        grid: { display: false, drawTicks: false }, border: { display: false },
        ticks: { font: tickFont(16), padding: 13 },
        afterBuildTicks: fixedTicks(mjyTicks),
        afterFit: fixedSize('width', 55)
      }
    }
  },
  plugins: [axisDecor, errorBars, rightText]
});
</script>
</body>
</html>
